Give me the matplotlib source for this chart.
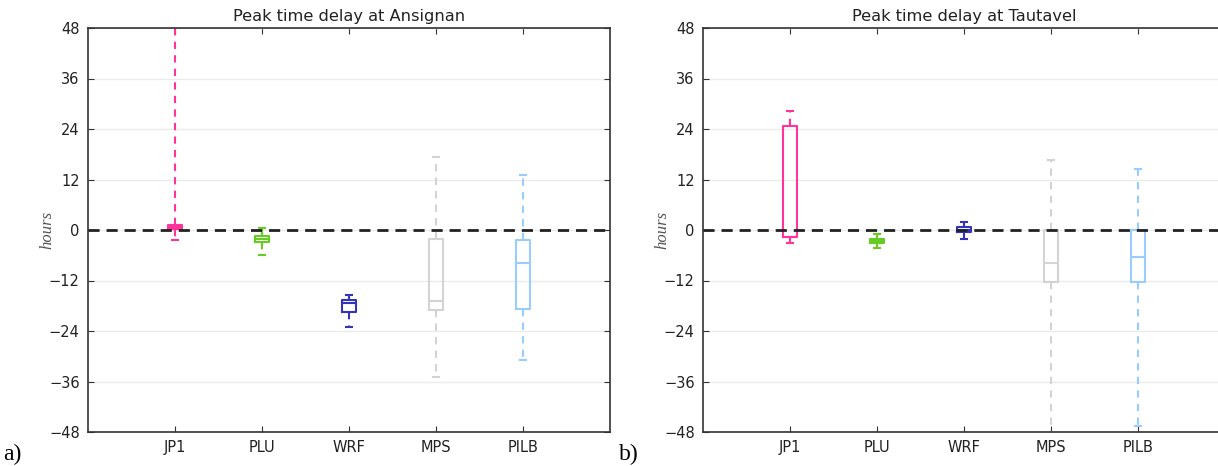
import numpy as np
import matplotlib
matplotlib.use("Agg")
import matplotlib.pyplot as plt

# model names and colours
models = ['JP1', 'PLU', 'WRF', 'MPS', 'PILB']
colors = ['#ff3399', '#66cc22', '#3333bb', '#d3d3d3', '#99ccff']

# box statistics (hours): whislo, q1, med, q3, whishi
ansignan_whislo = [-2.4, -5.9, -23.1, -34.9, -30.9]
ansignan_q1 = [0.2, -2.85, -19.4, -19.0, -18.7]
ansignan_med = [0.6, -2.1, -17.3, -16.8, -7.8]
ansignan_q3 = [1.3, -1.4, -16.6, -2.1, -2.4]
ansignan_whishi = [60.0, 0.4, -15.4, 17.4, 13.1]

tautavel_whislo = [-3.1, -4.2, -2.1, -55.0, -46.5]
tautavel_q1 = [-1.7, -3.1, -0.4, -12.4, -12.4]
tautavel_med = [-1.6, -2.7, 0.1, -7.8, -6.4]
tautavel_q3 = [24.8, -2.2, 0.6, 0.0, 0.0]
tautavel_whishi = [28.3, -0.9, 1.9, 16.6, 14.6]

yticks = [-48, -36, -24, -12, 0, 12, 24, 36, 48]


def make_stats(whislo, q1, med, q3, whishi):
    stats = []
    for i in range(len(models)):
        stats.append({'whislo': whislo[i], 'q1': q1[i], 'med': med[i],
                      'q3': q3[i], 'whishi': whishi[i], 'fliers': [],
                      'label': models[i]})
    return stats


def draw_panel(ax, stats, title):
    ax.set_axisbelow(True)
    ax.yaxis.grid(True, color='#ebebeb', lw=1)
    ax.axhline(0, color='#222222', lw=2, ls=(0, (4, 2.5)), zorder=3)
    for i, st in enumerate(stats):
        c = colors[i]
        ax.bxp([st], positions=[i + 1], widths=0.15, capwidths=0.08,
               showfliers=False,
               boxprops=dict(color=c, lw=1.5),
               medianprops=dict(color=c, lw=1.5),
               whiskerprops=dict(color=c, lw=1.5, ls=(0, (3.5, 3))),
               capprops=dict(color=c, lw=1.5), manage_ticks=False)
    ax.set_xlim(0, 6)
    ax.set_ylim(-48, 48)
    ax.set_xticks(range(1, len(models) + 1))
    ax.set_xticklabels(models)
    ax.set_yticks(yticks)
    ax.tick_params(direction='in', top=True, right=True, length=4,
                   labelsize=10.5, color='#333333', labelcolor='#222222',
                   pad=6)
    for sp in ax.spines.values():
        sp.set_color('#333333')
        sp.set_linewidth(1.2)
    ax.set_title(title, fontsize=11.7, color='#222222', pad=5)
    ax.set_ylabel('hours', fontstyle='italic', family='Liberation Serif',
                  color='#555555', fontsize=12, labelpad=-5)


fig = plt.figure(figsize=(12.18, 4.66), dpi=100)
ax1 = fig.add_axes([88 / 1218, 34 / 466, 522 / 1218, 404 / 466])
ax2 = fig.add_axes([703 / 1218, 34 / 466, 522 / 1218, 404 / 466])

draw_panel(ax1, make_stats(ansignan_whislo, ansignan_q1, ansignan_med,
                           ansignan_q3, ansignan_whishi),
           'Peak time delay at Ansignan')
draw_panel(ax2, make_stats(tautavel_whislo, tautavel_q1, tautavel_med,
                           tautavel_q3, tautavel_whishi),
           'Peak time delay at Tautavel')

fig.text(3 / 1218, 6 / 466, 'a)', family='Liberation Serif', fontsize=17)
fig.text(619 / 1218, 6 / 466, 'b)', family='Liberation Serif', fontsize=17)

fig.savefig('out.png', dpi=100)
